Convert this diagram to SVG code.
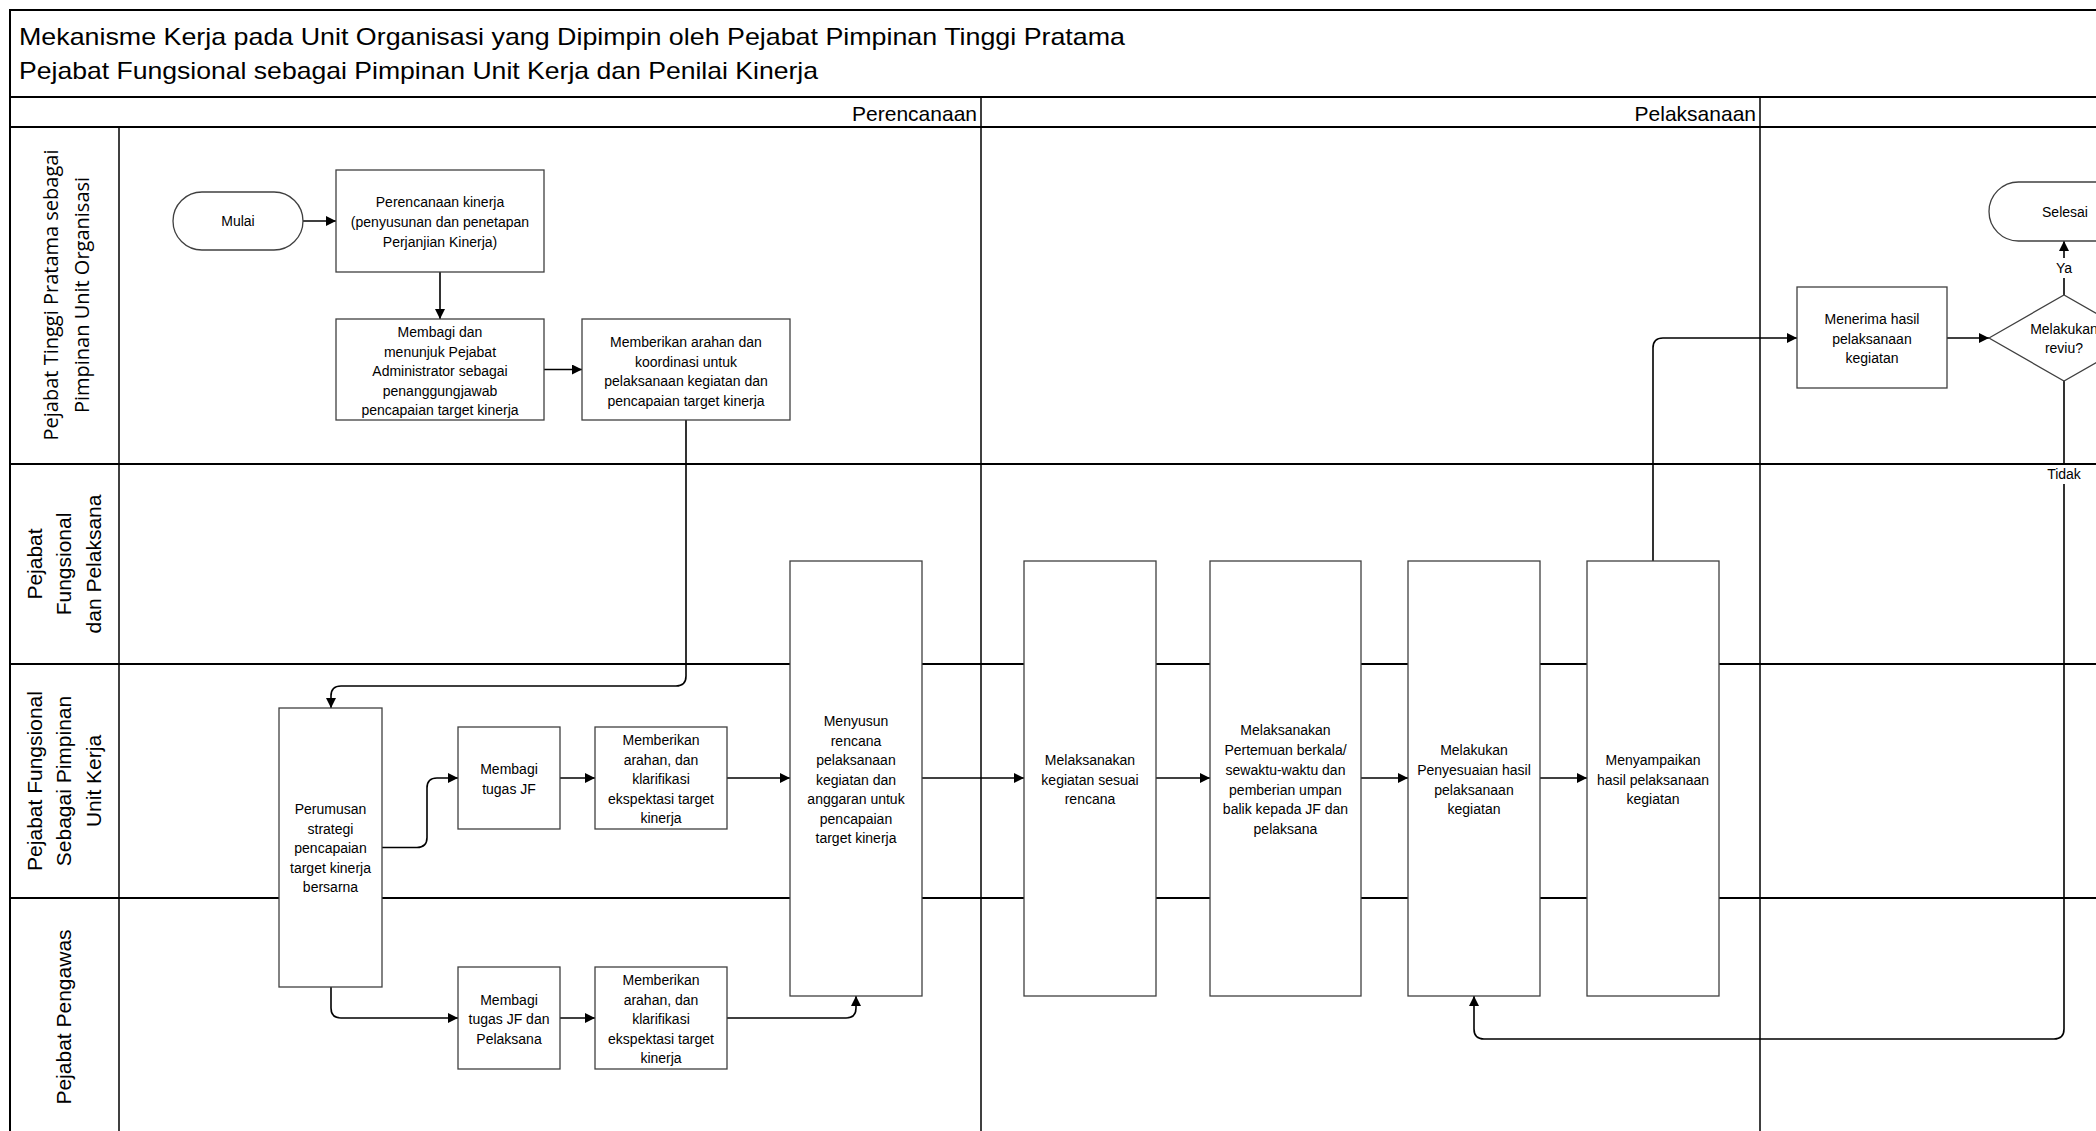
<svg xmlns="http://www.w3.org/2000/svg" width="2096" height="1131" viewBox="0 0 2096 1131">
<defs>
<style>
.lane{fill:none;stroke:#000;stroke-width:2}
.thin{fill:none;stroke:#000;stroke-width:1.5}
.box{fill:#fff;stroke:#404040;stroke-width:1.3}
.conn{fill:none;stroke:#000;stroke-width:1.6;marker-end:url(#ah)}
.line{fill:none;stroke:#000;stroke-width:1.6}
.t{font-family:"Liberation Sans",Arial,sans-serif;font-size:14px;fill:#000;text-anchor:middle}
.title{font-family:"Liberation Sans",Arial,sans-serif;font-size:24px;fill:#000}
.phase{font-family:"Liberation Sans",Arial,sans-serif;font-size:21px;fill:#000;text-anchor:end}
.lab{font-family:"Liberation Sans",Arial,sans-serif;font-size:21px;fill:#000;text-anchor:middle}
.lab1{font-family:"Open Sans","Liberation Sans",sans-serif;font-size:20px;fill:#000;text-anchor:middle}
</style>
<marker id="ah" viewBox="0 0 10 10" refX="10" refY="5" markerWidth="11" markerHeight="10" markerUnits="userSpaceOnUse" orient="auto"><path d="M0,0 L10,5 L0,10 z" fill="#000"/></marker>
</defs>
<rect x="0" y="0" width="2096" height="1131" fill="#fff"/>

<g id="frame">
<path class="lane" d="M10,1131 V10 H2096"/>
<path class="lane" d="M10,97 H2096"/>
<path class="lane" d="M10,127 H2096"/>
<path class="lane" d="M10,464 H2096"/>
<path class="lane" d="M10,664 H2096"/>
<path class="lane" d="M10,898 H2096"/>
<path class="thin" d="M119,127 V1131"/>
<path class="thin" d="M981,97 V1131"/>
<path class="thin" d="M1760,97 V1131"/>
<text class="title" x="19" y="45" textLength="1106" lengthAdjust="spacingAndGlyphs">Mekanisme Kerja pada Unit Organisasi yang Dipimpin oleh Pejabat Pimpinan Tinggi Pratama</text>
<text class="title" x="19" y="79" textLength="799" lengthAdjust="spacingAndGlyphs">Pejabat Fungsional sebagai Pimpinan Unit Kerja dan Penilai Kinerja</text>
<text class="phase" x="977" y="121">Perencanaan</text>
<text class="phase" x="1756" y="121">Pelaksanaan</text>
</g>

<g id="lane-labels">
<g transform="translate(0,295) rotate(-90)">
<text class="lab1" x="0" y="58">Pejabat Tinggi Pratama sebagai</text>
<text class="lab1" x="0" y="89">Pimpinan Unit Organisasi</text>
</g>
<g transform="translate(0,564) rotate(-90)">
<text class="lab" x="0" y="42">Pejabat</text>
<text class="lab" x="0" y="71">Fungsional</text>
<text class="lab" x="0" y="101">dan Pelaksana</text>
</g>
<g transform="translate(0,781) rotate(-90)">
<text class="lab" x="0" y="42">Pejabat Fungsional</text>
<text class="lab" x="0" y="71">Sebagai Pimpinan</text>
<text class="lab" x="0" y="101">Unit Kerja</text>
</g>
<g transform="translate(0,1017) rotate(-90)">
<text class="lab" x="0" y="71">Pejabat Pengawas</text>
</g>
</g>

<g id="connectors">
<path class="conn" d="M303,221 H336"/>
<path class="conn" d="M440,272 V319"/>
<path class="conn" d="M544,369.5 H582"/>
<path class="conn" d="M686,420 V676 Q686,686 676,686 H341 Q331,686 331,696 V708"/>
<path class="conn" d="M382,847.5 H417 Q427,847.5 427,837.5 V788 Q427,778 437,778 H458"/>
<path class="conn" d="M560,778 H595"/>
<path class="conn" d="M727,778 H790"/>
<path class="conn" d="M331,987 V1008 Q331,1018 341,1018 H458"/>
<path class="conn" d="M560,1018 H595"/>
<path class="conn" d="M727,1018 H846 Q856,1018 856,1008 V996"/>
<path class="conn" d="M922,778 H1024"/>
<path class="conn" d="M1156,778 H1210"/>
<path class="conn" d="M1361,778 H1408"/>
<path class="conn" d="M1540,778 H1587"/>
<path class="conn" d="M1653,561 V348 Q1653,338 1663,338 H1797"/>
<path class="conn" d="M1947,338 H1989"/>
<path class="conn" d="M2064,295 V241"/>
<path class="conn" d="M2064,381 V1029 Q2064,1039 2054,1039 H1484 Q1474,1039 1474,1029 V996"/>
<rect x="2053" y="258" width="22" height="20" fill="#fff"/>
<text class="t" x="2064" y="273">Ya</text>
<rect x="2045" y="465" width="39" height="19" fill="#fff"/>
<text class="t" x="2064" y="479">Tidak</text>
</g>

<g id="n-mulai"><rect class="box" x="173" y="192" width="130" height="58" rx="29" ry="29"/><text class="t" x="238" y="226">Mulai</text></g>

<g id="n-perencanaan"><rect class="box" x="336" y="170" width="208" height="102"/>
<text class="t" x="440" y="207">Perencanaan kinerja</text>
<text class="t" x="440" y="227">(penyusunan dan penetapan</text>
<text class="t" x="440" y="247">Perjanjian Kinerja)</text></g>

<g id="n-membagi-dan"><rect class="box" x="336" y="319" width="208" height="101"/>
<text class="t" x="440" y="337">Membagi dan</text>
<text class="t" x="440" y="356.5">menunjuk Pejabat</text>
<text class="t" x="440" y="376">Administrator sebagai</text>
<text class="t" x="440" y="395.5">penanggungjawab</text>
<text class="t" x="440" y="415">pencapaian target kinerja</text></g>

<g id="n-arahan-koordinasi"><rect class="box" x="582" y="319" width="208" height="101"/>
<text class="t" x="686" y="347">Memberikan arahan dan</text>
<text class="t" x="686" y="366.5">koordinasi untuk</text>
<text class="t" x="686" y="386">pelaksanaan kegiatan dan</text>
<text class="t" x="686" y="405.5">pencapaian target kinerja</text></g>

<g id="n-perumusan"><rect class="box" x="279" y="708" width="103" height="279"/>
<text class="t" x="330.5" y="814">Perumusan</text>
<text class="t" x="330.5" y="833.5">strategi</text>
<text class="t" x="330.5" y="853">pencapaian</text>
<text class="t" x="330.5" y="872.5">target kinerja</text>
<text class="t" x="330.5" y="892">bersarna</text></g>

<g id="n-membagi-jf"><rect class="box" x="458" y="727" width="102" height="102"/>
<text class="t" x="509" y="774">Membagi</text>
<text class="t" x="509" y="793.5">tugas JF</text></g>

<g id="n-arahan-jf"><rect class="box" x="595" y="727" width="132" height="102"/>
<text class="t" x="661" y="745">Memberikan</text>
<text class="t" x="661" y="764.5">arahan, dan</text>
<text class="t" x="661" y="784">klarifikasi</text>
<text class="t" x="661" y="803.5">ekspektasi target</text>
<text class="t" x="661" y="823">kinerja</text></g>

<g id="n-membagi-jf-pelaksana"><rect class="box" x="458" y="967" width="102" height="102"/>
<text class="t" x="509" y="1004.5">Membagi</text>
<text class="t" x="509" y="1024">tugas JF dan</text>
<text class="t" x="509" y="1043.5">Pelaksana</text></g>

<g id="n-arahan-pelaksana"><rect class="box" x="595" y="967" width="132" height="102"/>
<text class="t" x="661" y="985">Memberikan</text>
<text class="t" x="661" y="1004.5">arahan, dan</text>
<text class="t" x="661" y="1024">klarifikasi</text>
<text class="t" x="661" y="1043.5">ekspektasi target</text>
<text class="t" x="661" y="1063">kinerja</text></g>

<g id="n-menyusun"><rect class="box" x="790" y="561" width="132" height="435"/>
<text class="t" x="856" y="726">Menyusun</text>
<text class="t" x="856" y="745.5">rencana</text>
<text class="t" x="856" y="765">pelaksanaan</text>
<text class="t" x="856" y="784.5">kegiatan dan</text>
<text class="t" x="856" y="804">anggaran untuk</text>
<text class="t" x="856" y="823.5">pencapaian</text>
<text class="t" x="856" y="843">target kinerja</text></g>

<g id="n-melaksanakan"><rect class="box" x="1024" y="561" width="132" height="435"/>
<text class="t" x="1090" y="765">Melaksanakan</text>
<text class="t" x="1090" y="784.5">kegiatan sesuai</text>
<text class="t" x="1090" y="804">rencana</text></g>

<g id="n-pertemuan"><rect class="box" x="1210" y="561" width="151" height="435"/>
<text class="t" x="1285.5" y="735">Melaksanakan</text>
<text class="t" x="1285.5" y="755">Pertemuan berkala/</text>
<text class="t" x="1285.5" y="775">sewaktu-waktu dan</text>
<text class="t" x="1285.5" y="794.5">pemberian umpan</text>
<text class="t" x="1285.5" y="814">balik kepada JF dan</text>
<text class="t" x="1285.5" y="834">pelaksana</text></g>

<g id="n-penyesuaian"><rect class="box" x="1408" y="561" width="132" height="435"/>
<text class="t" x="1474" y="755">Melakukan</text>
<text class="t" x="1474" y="775">Penyesuaian hasil</text>
<text class="t" x="1474" y="794.5">pelaksanaan</text>
<text class="t" x="1474" y="814">kegiatan</text></g>

<g id="n-menyampaikan"><rect class="box" x="1587" y="561" width="132" height="435"/>
<text class="t" x="1653" y="765">Menyampaikan</text>
<text class="t" x="1653" y="784.5">hasil pelaksanaan</text>
<text class="t" x="1653" y="804">kegiatan</text></g>

<g id="n-menerima"><rect class="box" x="1797" y="287" width="150" height="101"/>
<text class="t" x="1872" y="324">Menerima hasil</text>
<text class="t" x="1872" y="343.5">pelaksanaan</text>
<text class="t" x="1872" y="363">kegiatan</text></g>

<g id="n-reviu"><polygon class="box" points="1989,338 2064,295 2139,338 2064,381"/>
<text class="t" x="2064" y="334">Melakukan</text>
<text class="t" x="2064" y="353">reviu?</text></g>

<g id="n-selesai"><rect class="box" x="1989" y="182" width="150" height="59" rx="29.5" ry="29.5"/>
<text class="t" x="2065" y="217">Selesai</text></g>
</svg>
